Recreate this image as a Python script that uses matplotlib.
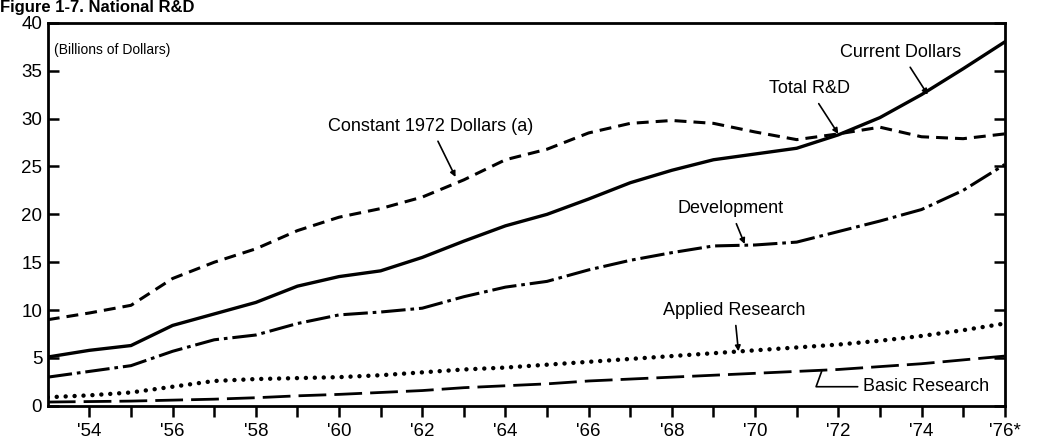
import matplotlib
matplotlib.use("Agg")
import matplotlib.pyplot as plt

plt.rcParams['font.family'] = ['Liberation Sans', 'DejaVu Sans']

# data (billions of dollars)
years = list(range(1953, 1977))
current = [5.1, 5.8, 6.3, 8.4, 9.6, 10.8, 12.5, 13.5, 14.1, 15.5, 17.2, 18.8,
           20.0, 21.6, 23.3, 24.6, 25.7, 26.3, 26.9, 28.3, 30.1, 32.5, 35.2, 38.0]
constant = [9.0, 9.7, 10.5, 13.3, 15.0, 16.4, 18.3, 19.7, 20.6, 21.8, 23.6, 25.7,
            26.8, 28.5, 29.5, 29.8, 29.5, 28.6, 27.8, 28.4, 29.1, 28.1, 27.9, 28.4]
development = [3.0, 3.6, 4.2, 5.7, 6.9, 7.4, 8.6, 9.5, 9.8, 10.2, 11.4, 12.4,
               13.0, 14.2, 15.2, 16.0, 16.7, 16.8, 17.1, 18.2, 19.3, 20.5, 22.5, 25.2]
applied = [0.9, 1.1, 1.4, 2.0, 2.6, 2.8, 2.9, 3.0, 3.2, 3.5, 3.8, 4.0,
           4.3, 4.6, 4.9, 5.2, 5.5, 5.8, 6.1, 6.4, 6.8, 7.3, 7.9, 8.6]
basic = [0.4, 0.45, 0.5, 0.6, 0.7, 0.85, 1.05, 1.2, 1.4, 1.6, 1.9, 2.1,
         2.3, 2.6, 2.8, 3.0, 3.2, 3.4, 3.6, 3.8, 4.1, 4.4, 4.8, 5.2]

y_ticks = [0, 5, 10, 15, 20, 25, 30, 35, 40]
x_major = list(range(1954, 1977, 2))
x_labels = ["'54", "'56", "'58", "'60", "'62", "'64", "'66", "'68", "'70", "'72", "'74", "'76*"]

fig = plt.figure(figsize=(10.39, 4.47), dpi=100)
ax = fig.add_axes([0.046, 0.092, 0.921, 0.857])

ax.plot(years, current, color='black', lw=2.4, solid_joinstyle='round')
ax.plot(years, constant, color='black', lw=2.2, dashes=(3.9, 2.3))
ax.plot(years, development, color='black', lw=2.2, dashes=(8, 1.6, 1.2, 1.6))
ax.plot(years, applied, color='black', lw=3.2, dashes=(0.01, 2.0),
        dash_capstyle='round')
ax.plot(years, basic, color='black', lw=2.0, dashes=(10, 2.9))

ax.set_xlim(1953, 1976)
ax.set_ylim(0, 40)
ax.set_yticks(y_ticks)
ax.set_yticklabels([str(v) for v in y_ticks], fontsize=13.5)
ax.tick_params(axis='y', direction='in', length=8, width=1.8, right=True, pad=4)
ax.set_xticks(x_major)
ax.set_xticks(list(range(1955, 1976, 2)), minor=True)
ax.set_xticklabels(x_labels, fontsize=13.5)
ax.tick_params(axis='x', which='both', direction='out', length=8, width=1.8, pad=4)
for sp in ax.spines.values():
    sp.set_linewidth(2)

ax.text(0.006, 0.93, '(Billions of Dollars)', transform=ax.transAxes,
        fontsize=10, va='center', ha='left')

arrow = dict(arrowstyle='-|>', color='black', lw=1.2, mutation_scale=8,
             shrinkA=3, shrinkB=0)
ax.annotate('Current Dollars', xy=(1974.15, 32.5), xytext=(1973.5, 36.9),
            fontsize=13, ha='center', va='center', arrowprops=arrow)
ax.annotate('Total R&D', xy=(1972.0, 28.4), xytext=(1971.3, 33.1),
            fontsize=13, ha='center', va='center', arrowprops=arrow)
ax.annotate('Constant 1972 Dollars (a)', xy=(1962.8, 23.9), xytext=(1962.2, 29.2),
            fontsize=13, ha='center', va='center', arrowprops=arrow)
ax.annotate('Development', xy=(1969.75, 16.9), xytext=(1969.4, 20.6),
            fontsize=13, ha='center', va='center', arrowprops=arrow)
ax.annotate('Applied Research', xy=(1969.6, 5.7), xytext=(1969.5, 10.0),
            fontsize=13, ha='center', va='center', arrowprops=arrow)
ax.annotate('Basic Research', xy=(1971.6, 3.6), xytext=(1972.6, 2.0),
            fontsize=13, ha='left', va='center',
            arrowprops=dict(arrowstyle='-', color='black', lw=1.2, shrinkA=2, shrinkB=0,
                            connectionstyle='angle,angleA=0,angleB=70,rad=0'))

fig.text(0.0, 1 - 12 / 447, 'Figure 1-7. National R&D', fontsize=12, fontweight='bold',
         ha='left', va='baseline')

fig.savefig('out.png', dpi=100)
